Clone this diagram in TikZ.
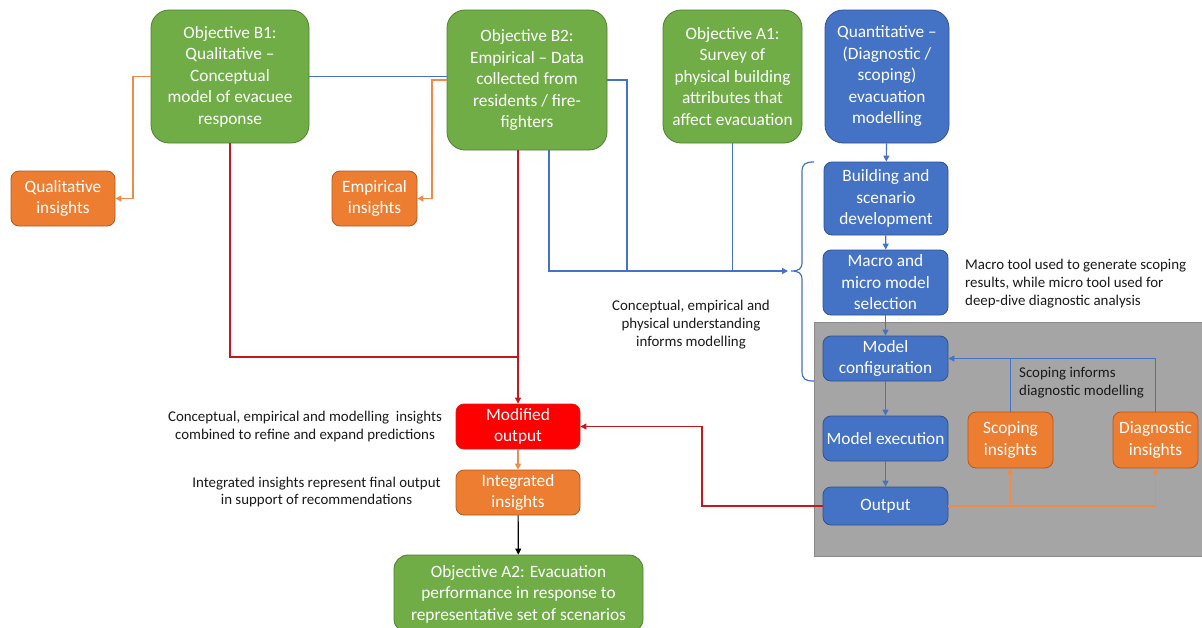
\documentclass[tikz,border=0pt]{standalone}
\usepackage{fontspec}
\setmainfont{Carlito}
\usetikzlibrary{arrows.meta,calc}
\definecolor{gfill}{HTML}{70AD47}
\definecolor{gdraw}{HTML}{507E32}
\definecolor{bfill}{HTML}{4472C4}
\definecolor{bdraw}{HTML}{2F528F}
\definecolor{ofill}{HTML}{ED7D31}
\definecolor{odraw}{HTML}{AE5A21}
\definecolor{rfill}{HTML}{FF0000}
\definecolor{rdraw}{HTML}{D02020}
\definecolor{greyc}{HTML}{A5A5A5}
\definecolor{greyd}{HTML}{8A8A8A}
\definecolor{bline}{HTML}{4472C4}
\definecolor{oline}{HTML}{F08A4B}
\definecolor{rline}{HTML}{C8161D}
\definecolor{txt}{HTML}{1A1A1A}
\newcommand\bxfont{\fontsize{17.3}{21.5}\selectfont}
\newcommand\anfont{\fontsize{14.9}{17.8}\selectfont}
\begin{document}
\begin{tikzpicture}[x=1pt,y=-1pt,
  bx/.style={draw, line width=0.8pt, text=white, align=center, font=\bxfont, inner sep=0pt},
  big/.style={bx, rounded corners=18pt},
  sml/.style={bx, rounded corners=8pt},
  gbox/.style={big, fill=gfill, draw=gdraw},
  bbig/.style={big, fill=bfill, draw=bdraw},
  bsml/.style={sml, fill=bfill, draw=bdraw},
  obox/.style={sml, fill=ofill, draw=odraw},
  rbox/.style={sml, fill=rfill, draw=rdraw},
  note/.style={text=txt, font=\anfont, inner sep=0pt},
  tip/.style={-{Triangle[length=6pt,width=6pt]}},
  bl/.style={draw=bline, line width=1.2pt},
  ol/.style={draw=oline, line width=1.2pt},
  rl/.style={draw=rline, line width=1.2pt},
  kl/.style={draw=black, line width=1.2pt}
]
\clip (0,0) rectangle (1202,627);
\fill[white] (0,0) rectangle (1202,627);
\filldraw[fill=greyc, draw=greyd, line width=1pt] (814,322) rectangle (1210,556);

% top row
\node[gbox, minimum width=158pt, minimum height=133pt] (B1) at (230,76.5) {Objective B1:\\Qualitative –\\Conceptual\\model of evacuee\\response};
\node[gbox, minimum width=160pt, minimum height=140pt] (B2) at (527,80) {Objective B2:\\Empirical – Data\\collected from\\residents / fire-\\fighters};
\node[gbox, minimum width=139pt, minimum height=133pt] (A1) at (732.5,76.5) {Objective A1:\\Survey of\\physical building\\attributes that\\affect evacuation};
\node[bbig, minimum width=124pt, minimum height=133pt] (Q) at (887,76.5) {Quantitative –\\(Diagnostic /\\scoping)\\evacuation\\modelling};

% insights
\node[obox, minimum width=104pt, minimum height=55pt] (QI) at (63,198.5) {Qualitative\\insights};
\node[obox, minimum width=85pt, minimum height=55pt] (EI) at (374.5,198.5) {Empirical\\insights};

% modelling chain
\node[bsml, minimum width=124pt, minimum height=73pt] (BS) at (886,198.5) {Building and\\scenario\\development};
\node[bsml, minimum width=125pt, minimum height=65pt] (MM) at (885.5,282.5) {Macro and\\micro model\\selection};
\node[bsml, minimum width=125pt, minimum height=45pt] (MC) at (885.5,358.5) {Model\\configuration};
\node[bsml, minimum width=125pt, minimum height=45pt] (ME) at (885.5,438.5) {Model execution};
\node[bsml, minimum width=125pt, minimum height=38pt] (OUT) at (885.5,506) {Output};
\node[obox, minimum width=85pt, minimum height=56pt] (SI) at (1010.5,440) {Scoping\\insights};
\node[obox, minimum width=85pt, minimum height=56pt] (DI) at (1155.5,440) {Diagnostic\\insights};

% bottom
\node[rbox, minimum width=124pt, minimum height=45pt] (MO) at (518,426.5) {Modified\\output};
\node[obox, minimum width=124pt, minimum height=45pt] (II) at (518,492.5) {Integrated\\insights};
\node[gbox, rounded corners=14pt, minimum width=249pt, minimum height=78pt] (A2) at (518.5,594) {Objective A2: Evacuation\\performance in response to\\representative set of scenarios};

% annotations
\node[note, align=center] (t1) at (691,324.5) {Conceptual, empirical and\\physical understanding\\informs modelling};
\node[note, align=left, anchor=west] (t2) at (965,283.5) {Macro tool used to generate scoping\\results, while micro tool used for\\deep-dive diagnostic analysis};
\node[note, align=left, anchor=west] (t3) at (1019,383) {Scoping informs\\diagnostic modelling};
\node[note, align=center] (t4) at (305,426.5) {Conceptual, empirical and modelling\ \ insights\\combined to refine and expand predictions};
\node[note, align=center] (t5) at (316.5,492) {Integrated insights represent final output\\in support of recommendations};

% brace
\coordinate (bt) at (788,271);
\draw[bl] (814,162) .. controls (805,162) and (802,164) .. (802,172) -- (802,262)
  .. controls (802,269) and (799,271) .. (791,271)
  .. controls (799,271) and (802,273) .. (802,280) -- (802,371)
  .. controls (802,379) and (805,381) .. (814,381);

% blue connectors into brace
\coordinate (j1) at (549,271);
\coordinate (j2) at (627,271);
\coordinate (j3) at (732.5,271);
\draw[bl] (B1.east) -- (B1.east -| B2.west);
\draw[bl] (B2.east) -| (j2);
\draw[bl] (A1.south) -- (j3);
\draw[bl, tip] (B2.south -| j1) -- (j1) -- (bt);

% modelling chain arrows
\draw[bl, tip] (Q) -- (BS);
\draw[bl, tip] (BS) -- (MM);
\draw[bl, tip] (MM) -- (MC);
\draw[bl, tip] (MC) -- (ME);
\draw[bl, tip] (ME) -- (OUT);
\draw[ol, tip] (OUT.east) -| (DI.south);
\draw[ol, tip] (SI.south |- OUT.east) -- (SI.south);
\draw[bl, tip] (DI.north) |- (MC.east);
\draw[bl] (SI.north) -- (SI.north |- MC.east);

% orange to insights
\coordinate (o1) at (133,76.5);
\coordinate (o2) at (432,80);
\draw[ol, tip] (B1.west) -- (o1) |- (QI.east);
\draw[ol, tip] (B2.west) -- (o2) |- (EI.east);

% red connectors
\coordinate (r1) at (518,357);
\coordinate (r2) at (702,506);
\draw[rl] (B1.south) |- (r1);
\draw[rl, tip] (B2.south -| MO.north) -- (MO.north);
\draw[rl, tip] (OUT.west) -- (r2) |- (MO.east);

% bottom chain
\draw[ol, tip] (MO) -- (II);
\draw[kl, tip] (II) -- (A2);
\end{tikzpicture}
\end{document}
